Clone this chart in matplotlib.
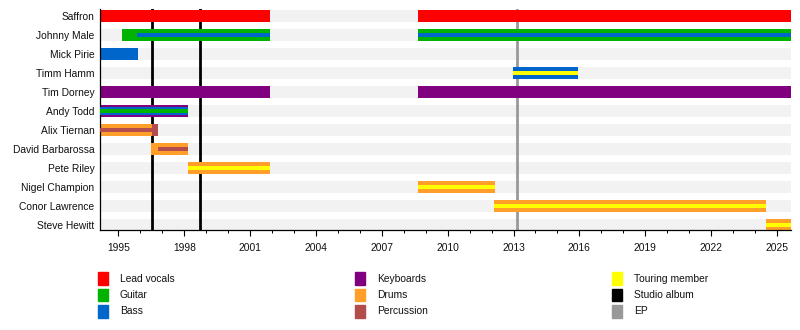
import matplotlib
matplotlib.use("Agg")
import matplotlib.pyplot as plt
from matplotlib.patches import Rectangle

plt.rcParams['font.family'] = ['Liberation Sans', 'DejaVu Sans']

# band members, top to bottom
members = ["Saffron", "Johnny Male", "Mick Pirie", "Timm Hamm", "Tim Dorney",
           "Andy Todd", "Alix Tiernan", "David Barbarossa", "Pete Riley",
           "Nigel Champion", "Conor Lawrence", "Steve Hewitt"]

start_year = 1994.16
end_year = 2025.65

# main role of each stint (full height bar)
main_bars = [
    ("Saffron", "vocals", 1994.16, 2001.90),
    ("Saffron", "vocals", 2008.65, 2025.65),
    ("Johnny Male", "guitar", 1995.16, 2001.90),
    ("Johnny Male", "guitar", 2008.65, 2025.65),
    ("Mick Pirie", "bass", 1994.16, 1995.87),
    ("Timm Hamm", "bass", 2012.98, 2015.94),
    ("Tim Dorney", "keys", 1994.16, 2001.90),
    ("Tim Dorney", "keys", 2008.65, 2025.65),
    ("Andy Todd", "keys", 1994.16, 1998.17),
    ("Alix Tiernan", "perc", 1994.16, 1996.82),
    ("Alix Tiernan", "drums", 1994.16, 1996.51),
    ("David Barbarossa", "drums", 1996.48, 1998.17),
    ("Pete Riley", "drums", 1998.15, 2001.90),
    ("Nigel Champion", "drums", 2008.65, 2012.16),
    ("Conor Lawrence", "drums", 2012.11, 2024.50),
    ("Steve Hewitt", "drums", 2024.50, 2025.65),
]

# second role, drawn as a band inside the main bar
mid_bars = [
    ("Andy Todd", "bass", 1994.16, 1998.17),
]

inner_bars = [
    ("Johnny Male", "bass", 1995.84, 2001.90),
    ("Johnny Male", "bass", 2008.65, 2025.65),
    ("Timm Hamm", "touring", 2012.98, 2015.94),
    ("Andy Todd", "guitar", 1994.16, 1998.17),
    ("Alix Tiernan", "perc", 1994.16, 1996.51),
    ("David Barbarossa", "perc", 1996.81, 1998.17),
    ("Pete Riley", "touring", 1998.15, 2001.90),
    ("Nigel Champion", "touring", 2008.65, 2012.16),
    ("Conor Lawrence", "touring", 2012.11, 2024.50),
    ("Steve Hewitt", "touring", 2024.50, 2025.65),
]

studio_albums = [1996.53, 1998.73]
eps = [2013.16]

colors = {
    "vocals": "#ff0000",
    "guitar": "#00b300",
    "bass": "#0066cc",
    "keys": "#800080",
    "drums": "#ff9f2a",
    "perc": "#b34d4d",
    "touring": "#ffff00",
    "album": "#000000",
    "ep": "#999999",
}

legend_items = [
    ("vocals", "Lead vocals"), ("guitar", "Guitar"), ("bass", "Bass"),
    ("keys", "Keyboards"), ("drums", "Drums"), ("perc", "Percussion"),
    ("touring", "Touring member"), ("album", "Studio album"), ("ep", "EP"),
]

fig = plt.figure(figsize=(8, 3.3), dpi=100)
ax = fig.add_axes([0.125, 0.303, 0.864, 0.67])

row = {m: i for i, m in enumerate(members)}
bar_h = 0.63

# grey background band for each row
for i in range(len(members)):
    ax.barh(i, end_year - start_year, left=start_year, height=bar_h,
            color="#f2f2f2", zorder=0)

for x in studio_albums:
    ax.axvline(x, color=colors["album"], lw=2.0, zorder=1)
for x in eps:
    ax.axvline(x, color=colors["ep"], lw=2.0, zorder=1)

for m, role, a, b in main_bars:
    ax.barh(row[m], b - a, left=a, height=bar_h, color=colors[role], zorder=2)
for m, role, a, b in mid_bars:
    ax.barh(row[m], b - a, left=a, height=bar_h * 0.66, color=colors[role], zorder=3)
for m, role, a, b in inner_bars:
    ax.barh(row[m], b - a, left=a, height=bar_h * 0.38, color=colors[role], zorder=4)

ax.set_xlim(start_year, end_year)
ax.set_ylim(11.26, -0.37)

ax.set_yticks(range(len(members)))
ax.set_yticklabels(members, fontsize=7.4, color="#111111")
ax.tick_params(axis="y", length=0, pad=4)

ax.set_xticks(range(1995, 2026, 3))
ax.set_xticks(range(1995, 2026), minor=True)
ax.tick_params(axis="x", which="major", length=4, width=0.8, pad=5,
               labelsize=7.4, labelcolor="#111111")
ax.tick_params(axis="x", which="minor", length=2.2, width=0.7)

for s in ["top", "right"]:
    ax.spines[s].set_visible(False)
ax.spines["left"].set_linewidth(0.9)
ax.spines["bottom"].set_linewidth(0.9)

# legend, three columns below the chart
W, H = 800.0, 330.0
col_x = [98, 355, 612]
row_y = [278.7, 295.1, 311.5]
for k, (key, label) in enumerate(legend_items):
    cx = col_x[k // 3]
    cy = row_y[k % 3]
    fig.patches.append(Rectangle((cx / W, 1 - (cy + 6.3) / H), 10 / W, 12.6 / H,
                                 transform=fig.transFigure, color=colors[key]))
    fig.text((cx + 22) / W, 1 - cy / H, label, fontsize=7.4, color="#111111",
             va="center", ha="left")

fig.savefig("out.png", dpi=100)
